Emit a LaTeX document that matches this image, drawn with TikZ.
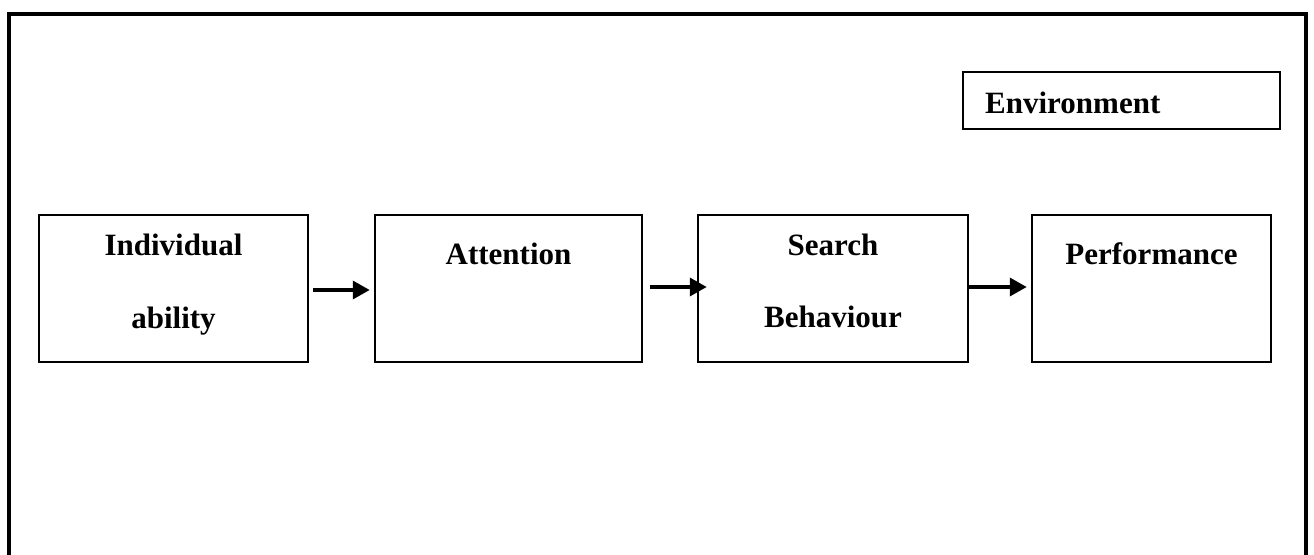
\documentclass[tikz,border=0pt]{standalone}
\usepackage{fontspec}
\setmainfont{Liberation Serif}
\usetikzlibrary{arrows.meta}
\tikzset{
  box/.style={draw, line width=2.5pt, inner sep=0pt, minimum height=147pt},
  lbl/.style={anchor=base, inner sep=0pt, font=\fontsize{31}{31}\selectfont\bfseries},
  flow/.style={line width=3.5pt, -{Triangle[length=17pt,width=18pt]}},
}
\begin{document}
\begin{tikzpicture}[x=1pt, y=-1pt]
\useasboundingbox (0,0) rectangle (1314,554);
\clip (0,0) rectangle (1314,554);
% outer frame, open towards the bottom edge
\draw[line width=4pt] (9,580) -- (9,14) -- (1306,14) -- (1306,580);

% environment box
\node[draw, line width=2.5pt, inner sep=0pt, minimum width=317pt, minimum height=57pt] (env) at (1121.5,100.5) {};
\node[lbl, anchor=base west] (envt) at (985,113) {Environment};

% process boxes
\node[box, minimum width=269pt] (b1) at (173.5,288.5) {};
\node[box, minimum width=267pt] (b2) at (508.5,288.5) {};
\node[box, minimum width=270pt] (b3) at (833,288.5) {};
\node[box, minimum width=239pt] (b4) at (1151.5,288.5) {};

\node[lbl] (t1a) at (173.5,255) {Individual};
\node[lbl] (t1b) at (173.5,328) {ability};
\node[lbl] (t2) at (508.5,264) {Attention};
\node[lbl] (t3a) at (833,255) {Search};
\node[lbl] (t3b) at (833,327) {Behaviour};
\node[lbl] (t4) at (1151.5,264) {Performance};

% connectors
\draw[flow, shorten <=4pt, shorten >=4pt] ([yshift=-1.5pt]b1.east) -- ([yshift=-1.5pt]b2.west);
\draw[flow, shorten <=7pt, shorten >=-10pt] ([yshift=1.5pt]b2.east) -- ([yshift=1.5pt]b3.west);
\draw[flow, shorten <=0pt, shorten >=4pt] ([yshift=1.5pt]b3.east) -- ([yshift=1.5pt]b4.west);
\end{tikzpicture}
\end{document}
